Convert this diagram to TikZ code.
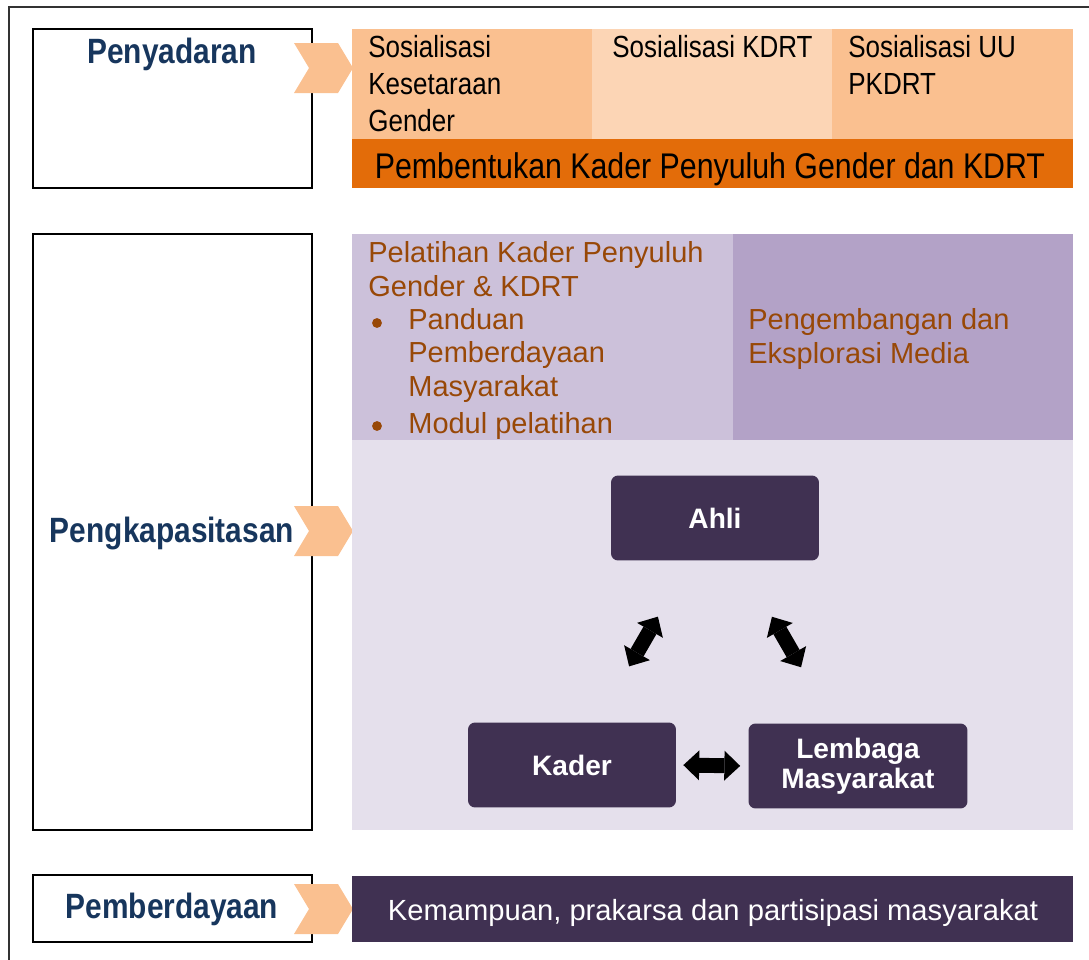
\documentclass[tikz,border=0pt]{standalone}
\usepackage{fontspec}
\setmainfont{Liberation Sans}
\newfontfamily\narrowfont[FakeStretch=0.85]{Liberation Sans}
\usetikzlibrary{arrows.meta}
\definecolor{peach}{HTML}{FAC090}
\definecolor{peachlight}{HTML}{FCD5B5}
\definecolor{orangebar}{HTML}{E36C09}
\definecolor{lilac}{HTML}{CCC1DA}
\definecolor{lilacdark}{HTML}{B3A2C7}
\definecolor{lilaclight}{HTML}{E5E0EC}
\definecolor{plum}{HTML}{403152}
\definecolor{rust}{HTML}{984807}
\definecolor{navy}{HTML}{17365D}
\begin{document}
\begin{tikzpicture}[x=0.02cm,y=-0.02cm,
  stage/.style={draw=black,line width=1.5pt},
  stagelabel/.style={anchor=base,inner sep=0,text=navy,font=\narrowfont\bfseries\fontsize{20}{24}\selectfont},
  chev/.style={fill=peach},
  sos/.style={anchor=base west,align=left,inner sep=0,font=\narrowfont\fontsize{17.4}{21}\selectfont},
  rusttext/.style={anchor=base west,align=left,inner sep=0,text=rust,font=\fontsize{16.5}{19}\selectfont},
  bullet/.style={circle,fill=rust,inner sep=0,minimum size=5.6pt},
  actor/.style={fill=plum,rounded corners=4pt,minimum width=4.16cm,minimum height=1.7cm,
    align=center,text=white,font=\bfseries\fontsize{16}{17}\selectfont},
  dbl/.style={line width=8.5pt,{Triangle[width=17pt,length=9pt,line width=0pt]}-{Triangle[width=17pt,length=9pt,line width=0pt]}}
]
\useasboundingbox (0,0) rectangle (1089,960);
\begin{scope}
\clip (0,0) rectangle (1089,960);
\draw[line width=1.2pt,black!80] (9,7) rectangle (1110,990);
\end{scope}
\draw[stage] (33,29) rectangle (312,188);
\draw[stage] (33,234) rectangle (312,830);
\draw[stage] (33,875) rectangle (312,942);
\foreach \y in {43,506,884}
  \fill[chev] (294,\y) -- ++(44,0) -- ++(15,25) -- ++(-15,25) -- ++(-44,0) -- ++(15,-25) -- cycle;
\fill[peach] (352,29) rectangle (592,139);
\fill[peachlight] (592,29) rectangle (832,139);
\fill[peach] (832,29) rectangle (1073,139);
\fill[orangebar] (352,139) rectangle (1073,188);
\fill[lilac] (352,234) rectangle (733,440);
\fill[lilacdark] (733,234) rectangle (1073,440);
\fill[lilaclight] (352,440) rectangle (1073,830);
\fill[plum] (352,876) rectangle (1073,942);
\node[stagelabel] (penyadaran) at (172,63) {Penyadaran};
\node[stagelabel] (pengkapasitasan) at (172,542) {Pengkapasitasan};
\node[stagelabel] (pemberdayaan) at (172,918) {Pemberdayaan};
\node[sos] (sosgender) at (368,131) {Sosialisasi\\Kesetaraan\\Gender};
\node[sos] (soskdrt) at (612,57) {Sosialisasi KDRT};
\node[sos] (sosuu) at (848,94) {Sosialisasi UU\\PKDRT};
\node[anchor=base,inner sep=0,font=\narrowfont\fontsize{20.3}{24}\selectfont] (kaderbar) at (710,178) {Pembentukan Kader Penyuluh Gender dan KDRT};
\node[rusttext] (pelatihan) at (368,296) {Pelatihan Kader Penyuluh\\Gender \& KDRT};
\node[bullet] (bula) at (377,323) {};
\node[rusttext] (panduan) at (408,396) {Panduan\\Pemberdayaan\\Masyarakat};
\node[bullet] (bulb) at (377,426) {};
\node[rusttext] (modul) at (408,433) {Modul pelatihan};
\node[rusttext] (media) at (748,363) {Pengembangan dan\\Eksplorasi Media};
\node[actor] (ahli) at (715,518) {Ahli};
\node[actor] (kader) at (572,765) {Kader};
\node[actor,minimum width=4.38cm] (lembaga) at (858,766) {Lembaga\\Masyarakat};
\draw[dbl,shorten <=2.28cm,shorten >=2.28cm] (ahli.center) -- (kader.center);
\draw[dbl,shorten <=2.28cm,shorten >=2.28cm] (ahli.center) -- (lembaga.center);
\draw[dbl,shorten <=0.14cm,shorten >=0.16cm] (kader.east) -- (lembaga.west);
\node[anchor=base,inner sep=0,text=white,font=\fontsize{16.6}{20}\selectfont] (kemampuan) at (713,920) {Kemampuan, prakarsa dan partisipasi masyarakat};
\end{tikzpicture}
\end{document}
